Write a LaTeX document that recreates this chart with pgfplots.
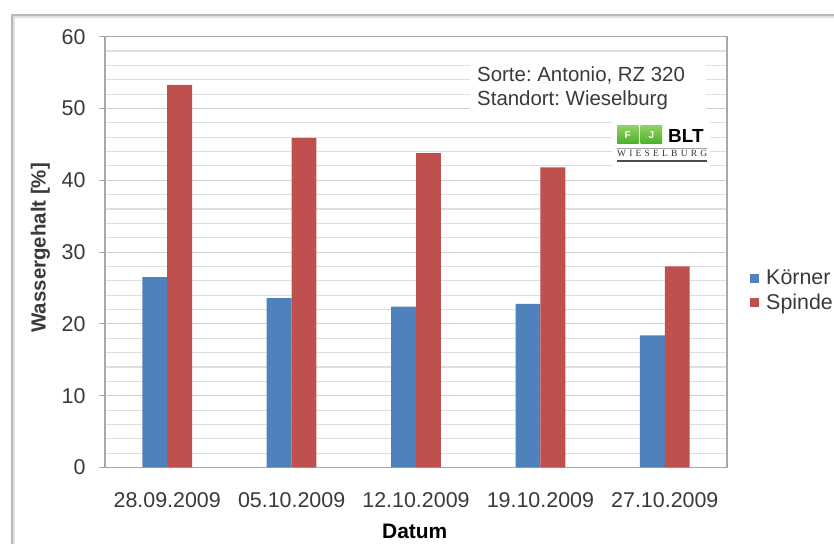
\documentclass[border=0pt]{standalone}
\usepackage{fontspec}
\setmainfont{Liberation Sans}
\newfontfamily\logoserif{Liberation Serif}
\usepackage{pgfplots}
\pgfplotsset{compat=1.18}
\definecolor{barblue}{HTML}{4F81BD}
\definecolor{barred}{HTML}{C0504D}
\definecolor{gridmaj}{HTML}{CFCFCF}
\definecolor{gridmin}{HTML}{DEDEDE}
\definecolor{axisgray}{HTML}{A8A8A8}
\definecolor{txt}{HTML}{3A3A3A}
\definecolor{logogreen}{HTML}{4DAF2C}
\definecolor{logolight}{HTML}{8FD160}

% Wassergehalt der Koerner und Spindeln je Erntetermin
\pgfplotstableread{
idx koerner spindel
0   26.5    53.3
1   23.6    45.9
2   22.4    43.8
3   22.8    41.8
4   18.4    28.0
}\wasserdata

\begin{document}
\frenchspacing
\begin{tikzpicture}[x=1bp,y=1bp]
\fill[white] (0,0) rectangle (834,544);
% Rahmen
\draw[black!12, line width=2bp] (14,0) -- (14,527) -- (834,527);
\draw[black!28, line width=1.1bp] (12,0) -- (12,529) -- (834,529);
\coordinate (axisorigin) at (105,76.5);

\begin{axis}[
  at={(axisorigin)}, anchor=south west,
  scale only axis, width=622bp, height=430.8bp,
  xmin=-0.5, xmax=4.5, ymin=0, ymax=60,
  ybar=0pt, bar width=0.2,
  xtick={0,1,2,3,4},
  xticklabels={28.09.2009,05.10.2009,12.10.2009,19.10.2009,27.10.2009},
  ytick={0,10,...,60},
  minor ytick={2,4,...,58},
  ymajorgrids, yminorgrids,
  major grid style={gridmaj, line width=1.1bp},
  minor grid style={gridmin, line width=1.1bp},
  axis line style={axisgray, line width=1.2bp},
  tick align=outside,
  xtick style={draw=none},
  ytick style={axisgray, line width=1.1bp},
  major tick length=6bp,
  minor tick length=0pt,
  xtick pos=bottom, ytick pos=left,
  tick label style={font=\fontsize{21.5}{24}\selectfont, text=txt},
  yticklabel style={xshift=-10bp},
  xticklabel style={yshift=-16bp},
  /pgf/number format/assume math mode=true,
  xlabel={Datum},
  ylabel={Wassergehalt [\%]},
  xlabel style={font=\bfseries\fontsize{21}{24}\selectfont, text=black,
    at={(axis description cs:0.498,-0.149)}, anchor=center},
  ylabel style={font=\bfseries\fontsize{20.5}{22}\selectfont, text=txt,
    at={(axis description cs:-0.104,0.51)}, anchor=center, rotate=0},
  legend style={at={(axis description cs:1.037,0.41)}, anchor=west,
    draw=none, fill=none, inner sep=0pt, row sep=8bp,
    font=\fontsize{21.5}{24}\selectfont, text=txt,
    nodes={inner sep=0pt, anchor=west}},
  legend cell align=left,
  clip=false,
]
\addplot[fill=barblue, draw=none,
  legend image code/.code={\fill[barblue] (0bp,-4.5bp) rectangle (9bp,4.5bp);}]
  table[x=idx, y=koerner] {\wasserdata};
\addlegendentry{\hspace{7bp}Körner}
\addplot[fill=barred, draw=none,
  legend image code/.code={\fill[barred] (0bp,-4.5bp) rectangle (9bp,4.5bp);}]
  table[x=idx, y=spindel] {\wasserdata};
\addlegendentry{\hspace{7bp}Spindel}
\end{axis}

% Angaben zu Sorte und Standort
\fill[white] (470,426) rectangle (706,489);
\node[anchor=base west, inner sep=0pt, text=txt, font=\fontsize{20.5}{24}\selectfont]
  at (477,462) {Sorte: Antonio, RZ 320};
\node[anchor=base west, inner sep=0pt, text=txt, font=\fontsize{20.5}{24}\selectfont]
  at (477,438) {Standort: Wieselburg};

% Logo
\fill[white] (612,378) rectangle (710,424);
\shade[bottom color=logogreen, top color=logolight] (617,400) rectangle (638.5,418);
\shade[bottom color=logogreen, top color=logolight] (640.5,400) rectangle (662,418);
\node[text=white, font=\bfseries\fontsize{10}{11}\selectfont, inner sep=0pt] at (627.7,409) {F};
\node[text=white, font=\bfseries\fontsize{10}{11}\selectfont, inner sep=0pt] at (651.3,409) {J};
\node[anchor=base west, inner sep=0pt, font=\bfseries\fontsize{19}{22}\selectfont]
  at (668,401) {BLT};
\draw[black!35, line width=0.8bp] (617,396) -- (707,396);
\node[anchor=base west, inner sep=0pt, text=black!80, font=\logoserif\fontsize{9.5}{11}\selectfont]
  at (617,387) {\makebox[90bp][s]{W\hfill I\hfill E\hfill S\hfill E\hfill L\hfill B\hfill U\hfill R\hfill G}};
\draw[black!70, line width=1.1bp] (617,383) -- (707,383);

% Seitenformat festlegen
\pgfresetboundingbox
\path[use as bounding box] (0,0) rectangle (834,544);
\end{tikzpicture}
\end{document}
